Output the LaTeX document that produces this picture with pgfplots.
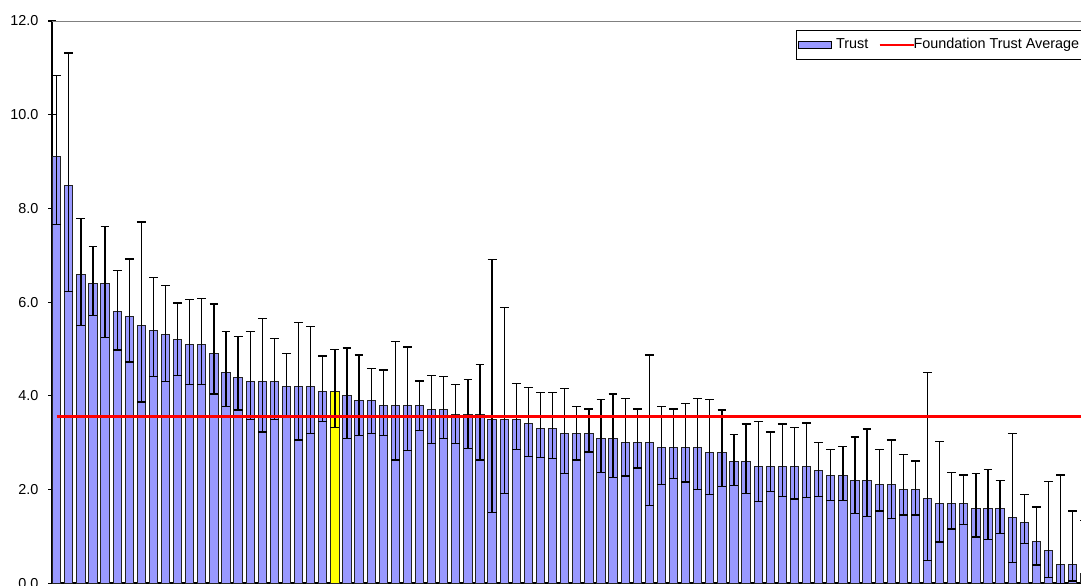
\documentclass[border=0pt]{standalone}
\usepackage{fontspec}
\setmainfont{Liberation Sans}
\usepackage{pgfplots}
\usepackage{pgfplotstable}
\pgfplotsset{compat=1.18}
\definecolor{barblue}{RGB}{153,153,255}
\definecolor{baredge}{RGB}{35,35,35}
\definecolor{ownyellow}{RGB}{255,255,0}

\pgfplotstableread{
x y lo hi
1 9.1 7.65 10.83
2 8.5 6.22 11.32
3 6.6 5.50 7.78
4 6.4 5.71 7.19
5 6.4 5.25 7.62
6 5.8 4.98 6.68
7 5.7 4.72 6.92
8 5.5 3.87 7.71
9 5.4 4.41 6.53
10 5.3 4.30 6.36
11 5.2 4.44 5.98
12 5.1 4.24 6.05
13 5.1 4.24 6.08
14 4.9 4.04 5.96
15 4.5 3.78 5.37
16 4.4 3.70 5.27
17 4.3 3.50 5.37
18 4.3 3.23 5.65
19 4.3 3.50 5.22
20 4.2 3.55 4.91
21 4.2 3.06 5.56
22 4.2 3.20 5.48
23 4.1 3.46 4.85
25 4.0 3.09 5.02
26 3.9 3.15 4.87
27 3.9 3.20 4.59
28 3.8 3.15 4.55
29 3.8 2.63 5.16
30 3.8 2.83 5.04
31 3.8 3.26 4.32
32 3.7 2.98 4.44
33 3.7 3.09 4.41
34 3.6 2.98 4.24
35 3.6 2.88 4.35
36 3.6 2.63 4.67
37 3.5 1.51 6.91
38 3.5 1.91 5.88
39 3.5 2.86 4.27
40 3.4 2.71 4.18
41 3.3 2.68 4.07
42 3.3 2.66 4.07
43 3.2 2.34 4.15
44 3.2 2.63 3.78
45 3.2 2.80 3.72
46 3.1 2.37 3.93
47 3.1 2.26 4.04
48 3.0 2.29 3.95
49 3.0 2.46 3.72
50 3.0 1.66 4.87
51 2.9 2.11 3.78
52 2.9 2.23 3.72
53 2.9 2.16 3.84
54 2.9 2.00 3.95
55 2.8 1.89 3.93
56 2.8 2.06 3.70
57 2.6 2.09 3.18
58 2.6 1.91 3.40
59 2.5 1.74 3.46
60 2.5 1.96 3.23
61 2.5 1.86 3.40
62 2.5 1.80 3.32
63 2.5 1.83 3.42
64 2.4 1.86 3.01
65 2.3 1.77 2.86
66 2.3 1.77 2.92
67 2.2 1.49 3.12
68 2.2 1.43 3.29
69 2.1 1.54 2.86
70 2.1 1.39 3.06
71 2.0 1.46 2.75
72 2.0 1.46 2.61
73 1.8 0.48 4.50
74 1.7 0.88 3.03
75 1.7 1.16 2.37
76 1.7 1.26 2.31
77 1.6 0.99 2.34
78 1.6 0.93 2.43
79 1.6 1.06 2.20
80 1.4 0.45 3.20
81 1.3 0.85 1.89
82 0.9 0.39 1.63
83 0.7 0.13 2.17
84 0.4 0.00 2.31
85 0.4 0.05 1.54
86 0.2 0.00 1.34
}\trustdata

\pgfplotstableread{
x y lo hi
24 4.1 3.32 4.99
}\owndata

\pgfplotstableread{
x y
1 3.555
87 3.555
}\avgdata

\begin{document}
\begin{tikzpicture}
\path[use as bounding box, clip] (-26pt,-0.85pt) rectangle (514.5pt,291.65pt);
\begin{axis}[
  scale only axis,
  width=524pt, height=281.15pt,
  xmin=0.613, xmax=87.26,
  ymin=0, ymax=12,
  axis x line*=bottom,
  axis y line*=left,
  axis line style={black, line width=1.1pt},
  xtick=\empty,
  ytick={0,2,4,6,8,10,12},
  /pgf/number format/.cd, fixed, fixed zerofill, precision=1, assume math mode=true,
  /pgfplots/.cd,
  tick align=center,
  major tick length=3.6pt,
  y tick style={black, line width=0.6pt},
  tick label style={font=\fontsize{7.2}{8.6}\selectfont},
  yticklabel style={xshift=-1.5pt},
  legend style={
    at={(0.7099,0.984)}, anchor=north west,
    draw=black, line width=0.5pt, fill=white,
    font=\fontsize{7.2}{8.6}\selectfont,
    inner xsep=1pt, inner ysep=2pt,
    /tikz/every even column/.append style={column sep=3pt},
    /tikz/column 3/.style={column sep=-2.6pt},
  },
  legend columns=-1,
]
\addlegendimage{legend image code/.code={\draw[fill=barblue,draw=black,line width=0.5pt] (0pt,-1.7pt) rectangle (16.3pt,1.7pt);}}
\addlegendentry{Trust}
\addlegendimage{legend image code/.code={\draw[red,line width=1.2pt] (-1pt,0pt) -- (16pt,0pt);}}
\addlegendentry{Foundation Trust Average\hphantom{iii}}

\addplot[ybar, bar width=4.15pt, bar shift=0pt, fill=barblue, draw=baredge, line width=0.5pt, forget plot,
  error bars/.cd, y dir=both, y explicit,
  error bar style={black, line width=0.65pt},
  error mark options={black, line width=0.65pt, mark size=2.2pt, rotate=90}]
  table[x=x, y=y, y error plus expr=\thisrow{hi}-\thisrow{y}, y error minus expr=\thisrow{y}-\thisrow{lo}] {\trustdata};
\addplot[ybar, bar width=4.15pt, bar shift=0pt, fill=ownyellow, draw=baredge, line width=0.5pt, forget plot,
  error bars/.cd, y dir=both, y explicit,
  error bar style={black, line width=0.65pt},
  error mark options={black, line width=0.65pt, mark size=2.2pt, rotate=90}]
  table[x=x, y=y, y error plus expr=\thisrow{hi}-\thisrow{y}, y error minus expr=\thisrow{y}-\thisrow{lo}] {\owndata};
\addplot[red, line width=1.3pt, forget plot] table[x=x, y=y] {\avgdata};
\draw[gray, line width=0.5pt] (rel axis cs:0,1) -- (rel axis cs:1,1);
\end{axis}
\end{tikzpicture}
\end{document}
